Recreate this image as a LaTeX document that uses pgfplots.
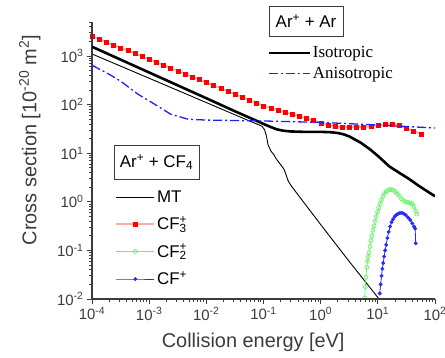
\documentclass[border=0pt]{standalone}
\usepackage{fontspec}
\setmainfont{Liberation Sans}
\newfontfamily\serif{Liberation Serif}
\usepackage{pgfplots}
\pgfplotsset{compat=1.18}
\definecolor{cfred}{RGB}{255,0,0}
\definecolor{cfpink}{RGB}{255,170,170}
\definecolor{cfgreen}{RGB}{110,240,110}
\definecolor{cfblue}{RGB}{40,40,255}
\definecolor{aniso}{RGB}{30,30,255}
\definecolor{axgray}{RGB}{60,60,60}

\begin{document}
\begin{tikzpicture}
\useasboundingbox (-92bp,-59bp) rectangle (353bp,299bp);

% ---- Ar+ + CF4 data (drawn first, axis hidden) ----
\begin{axis}[xmode=log, ymode=log, scale only axis, width=343bp, height=277bp,
  xmin=1e-4, xmax=100, ymin=1e-2, ymax=5000, at={(0bp,0bp)}, anchor=south west,
  hide axis, clip=true,
  legend image code/.code={\draw[mark repeat=2,mark phase=2,#1] plot coordinates {(0bp,0bp) (19bp,0bp) (38bp,0bp)};},
  legend cell align=left,
  legend style={at={(axis description cs:0.068,0.40)}, anchor=north west, draw=none, fill=none,
    font=\fontsize{17}{17}\selectfont, inner sep=0pt, row sep=9bp, nodes={inner sep=2bp}},
]
\addplot[black, line width=0.9bp] coordinates {
(1e-4,1100) (1e-3,348) (1e-2,110) (0.05,49) (0.094,36) (0.105,30) (0.113,22) (0.12,15)
(0.135,11) (0.15,9.5) (0.17,7.4) (0.2,5.8) (0.23,4.6) (0.25,3.5) (0.27,2.7) (0.3,2.2)
(0.4,1.4) (1,0.34) (3,0.064) (10.5,0.01)
};
\addlegendentry{MT}
\addplot[cfpink, line width=1.6bp, mark=square*, mark size=2bp, mark options={fill=cfred, draw=cfred, line width=0.2bp}] coordinates {
(1e-4,2570) (1.334e-4,2240) (1.778e-4,1954) (2.371e-4,1703) (3.162e-4,1485) (4.217e-4,1294) (5.623e-4,1128) (7.499e-4,984)
(1e-3,857) (1.334e-3,747) (1.778e-3,651) (2.371e-3,568) (3.162e-3,495) (4.217e-3,432) (5.623e-3,376) (7.499e-3,328)
(1e-2,286) (1.334e-2,249) (1.778e-2,217) (2.371e-2,189) (3.162e-2,165) (4.217e-2,144) (5.623e-2,125) (7.499e-2,109)
(0.1,95) (0.1334,86) (0.1778,78) (0.2371,70) (0.3162,64) (0.4217,57.5) (0.5623,52) (0.7499,47)
(1,42.5) (1.334,38.4) (1.778,35.5) (2.371,35) (3.162,35) (4.217,34.5) (5.623,35) (7.499,36)
(10,37) (13.34,39) (17.78,40.5) (23.71,37) (31.62,33) (42.17,29) (56.23,25)
};
\addlegendentry{CF\rlap{\textsuperscript{+}}\textsubscript{3}}
\addplot[cfgreen, line width=0.7bp, mark=o, mark size=2bp, mark options={draw=cfgreen, line width=0.7bp}] coordinates {
(5.9,0.0105) (6.05,0.018) (6.2,0.028) (6.4,0.045) (6.6,0.06) (6.8,0.075) (7.0,0.09) (7.3,0.12)
(7.6,0.16) (7.9,0.2) (8.2,0.26) (8.6,0.32) (9.0,0.4) (9.4,0.5) (9.9,0.62) (10.4,0.75)
(11.0,0.92) (11.6,1.1) (12.3,1.3) (13.1,1.48) (14.0,1.62) (15.0,1.72) (16.2,1.78) (17.5,1.78)
(19.0,1.72) (20.5,1.6) (22.0,1.45) (24.0,1.3) (26.0,1.15) (28.5,1.05) (31.0,1.0) (34.0,0.97)
(37.0,0.95) (40.0,0.9) (43.0,0.8) (46.0,0.65) (48.0,0.56)
};
\addlegendentry{CF\rlap{\textsuperscript{+}}\textsubscript{2}}
\addplot[cfblue, line width=0.8bp, mark=*, mark size=1.5bp, mark options={fill=cfblue, draw=cfblue}] coordinates {
(10.8,0.013) (11.2,0.02) (11.6,0.03) (12.0,0.042) (12.4,0.055) (12.9,0.075) (13.4,0.1) (14.0,0.13)
(14.7,0.18) (15.5,0.24) (16.4,0.31) (17.4,0.38) (18.5,0.44) (19.8,0.5) (21.2,0.54) (22.8,0.57)
(24.5,0.59) (26.5,0.59) (28.5,0.57) (31,0.53) (34,0.47) (37,0.42) (40,0.36) (43,0.31)
(45,0.28) (46,0.14)
};
\addlegendentry{CF\textsuperscript{+}}
\end{axis}

% ---- Ar+ + Ar curves with the visible axes ----
\begin{axis}[xmode=log, ymode=log, scale only axis, width=343bp, height=277bp,
  xmin=1e-4, xmax=100, ymin=1e-2, ymax=5000, at={(0bp,0bp)}, anchor=south west,
  axis x line*=bottom, axis y line*=left,
  axis line style={-, line width=1.1bp, draw=axgray},
  tick align=outside, major tick length=5bp, minor tick length=3bp,
  tick style={line width=0.8bp, draw=axgray},
  xtick={1e-4,1e-3,1e-2,1e-1,1,10,100},
  xticklabels={10\textsuperscript{-4},10\textsuperscript{-3},10\textsuperscript{-2},10\textsuperscript{-1},10\textsuperscript{0},10\textsuperscript{1},10\textsuperscript{2}},
  ytick={1e-2,1e-1,1,10,100,1000},
  yticklabels={10\textsuperscript{-2},10\textsuperscript{-1},10\textsuperscript{0},10\textsuperscript{1},10\textsuperscript{2},10\textsuperscript{3}},
  minor xtick={2e-4,3e-4,4e-4,5e-4,6e-4,7e-4,8e-4,9e-4,
    2e-3,3e-3,4e-3,5e-3,6e-3,7e-3,8e-3,9e-3,
    2e-2,3e-2,4e-2,5e-2,6e-2,7e-2,8e-2,9e-2,
    0.2,0.3,0.4,0.5,0.6,0.7,0.8,0.9,2,3,4,5,6,7,8,9,20,30,40,50,60,70,80,90},
  minor ytick={2e-2,3e-2,4e-2,5e-2,6e-2,7e-2,8e-2,9e-2,
    0.2,0.3,0.4,0.5,0.6,0.7,0.8,0.9,2,3,4,5,6,7,8,9,20,30,40,50,60,70,80,90,
    200,300,400,500,600,700,800,900,2000,3000,4000,5000},
  ticklabel style={font=\fontsize{15}{15}\selectfont, text=axgray},
  xlabel={Collision energy [eV]},
  ylabel={Cross section [10\textsuperscript{-20} m\textsuperscript{2}]},
  xlabel style={font=\fontsize{20}{22}\selectfont, text=axgray, at={(axis description cs:0.47,0)}, anchor=center, yshift=-43bp},
  ylabel style={font=\fontsize{20}{22}\selectfont, text=axgray, at={(axis description cs:-0.181,0.574)}, anchor=center},
  legend image code/.code={\draw[#1] (0bp,0bp) -- (41bp,0bp);},
  legend cell align=left,
  legend style={at={(axis description cs:0.512,0.917)}, anchor=north west, draw=none, fill=none,
    font=\serif\fontsize{17}{17}\selectfont, inner sep=0pt, row sep=5bp, nodes={inner sep=1.5bp}},
]
\addplot[black, line width=2.6bp] coordinates {
(1e-4,1550) (1e-3,457) (1e-2,135) (0.03,75) (0.05,57.5) (0.08,45) (0.1,40) (0.13,35) (0.17,31)
(0.22,29) (0.3,28) (0.5,27.5) (1,27.5) (1.5,27) (2,26) (2.5,24.5) (3.2,22) (4,19) (5,16.5)
(7.3,12) (10,8.8) (16,5.3) (25,3.8) (36,2.9) (50,2.2) (70,1.7) (100,1.3)
};
\addlegendentry{Isotropic}
\addplot[aniso, line width=1.3bp, dash pattern=on 9bp off 3bp on 2bp off 3bp] coordinates {
(1e-4,645) (2e-4,420) (3.2e-4,300) (6.4e-4,163) (1.26e-3,101) (2.4e-3,63) (4.8e-3,50)
(1e-2,48) (0.1,46) (1,43) (10,38) (100,33)
};
\addlegendentry{Anisotropic}
\end{axis}

\node[draw=axgray, line width=0.8bp, fill=white, minimum width=74bp, minimum height=30bp, inner sep=0pt,
  font=\fontsize{17}{17}\selectfont] at (214bp,278bp) {Ar\textsuperscript{+} + Ar};
\node[draw=axgray, line width=0.8bp, fill=white, minimum width=85bp, minimum height=34bp, inner sep=0pt,
  font=\fontsize{17}{17}\selectfont] at (64.5bp,137bp) {Ar\textsuperscript{+} + CF\textsubscript{4}};
\end{tikzpicture}
\end{document}
